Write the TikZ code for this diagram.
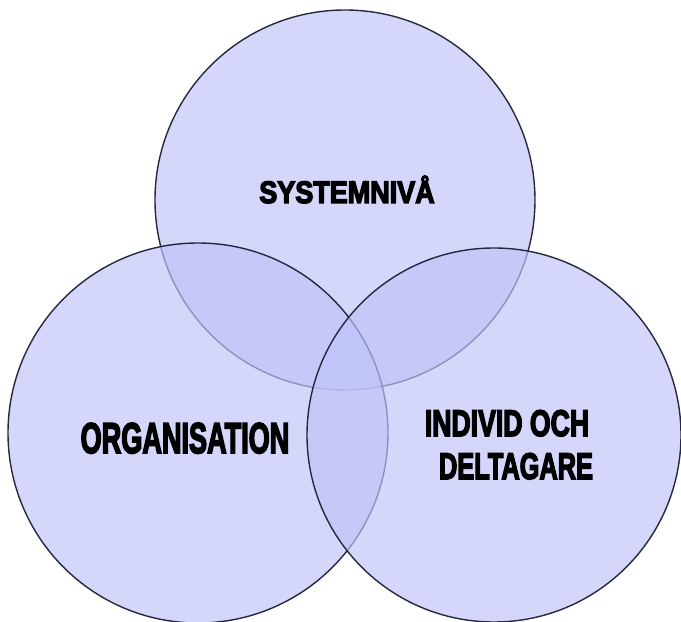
\documentclass[tikz,border=0pt]{standalone}
\usepackage{fontspec}
\usepackage{graphicx}
\newfontfamily\heavyfont{Liberation Sans Bold}[FakeBold=4.5]
\definecolor{venn}{RGB}{192,195,248}
\definecolor{ring}{RGB}{38,40,64}
\tikzset{
  venncircle/.style={draw=ring, line width=1.4pt, fill=venn, fill opacity=0.68},
  label/.style={inner sep=0pt, anchor=base, text=black}
}
\newcommand{\sqz}[2]{\scalebox{#1}[1]{\heavyfont #2}}
\begin{document}
\begin{tikzpicture}[x=1pt,y=1pt]
\useasboundingbox (0,0) rectangle (681,622);
\fill[white] (0,0) rectangle (681,622);
\path[venncircle] (345,422) circle (190) coordinate (ctop);
\path[venncircle] (198,189) circle (190) coordinate (cleft);
\path[venncircle] (494,187) circle (187) coordinate (cright);
\node[label, font=\fontsize{31}{31}\selectfont] (sys) at (347,419) {\sqz{0.87}{SYSTEMNIVÅ}};
\node[label, font=\fontsize{43}{43}\selectfont] (org) at (185,169) {\sqz{0.63}{ORGANISATION}};
\node[label, font=\fontsize{37}{37}\selectfont] (ind) at (507,186) {\sqz{0.72}{INDIVID OCH}};
\node[label, font=\fontsize{37}{37}\selectfont] (del) at (516,143) {\sqz{0.685}{DELTAGARE}};
\end{tikzpicture}
\end{document}
